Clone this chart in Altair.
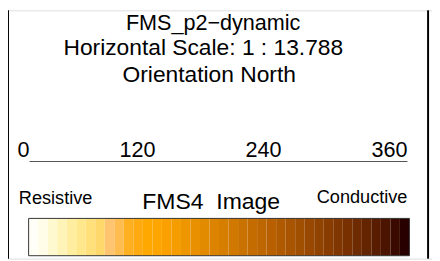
import altair as alt
import pandas as pd

# ---- data ----
title_lines = ["FMS_p2\u2212dynamic", "Horizontal Scale: 1 : 13.788", "Orientation North"]
tick_values = [0, 120, 240, 360]
tick_labels = ["0", "120", "240", "360"]
left_label = "Resistive"
center_label = "FMS4\u00a0 Image"
right_label = "Conductive"
band_colors = [
    "#FFFFF8", "#FFFDE8", "#FFF9D0", "#FFF4B8", "#FFEEA0", "#FFE88C", "#FFE07A", "#FFD86C",
    "#FFC470", "#FFBC50", "#FFB020", "#FFAA10", "#FFA800", "#FFA500", "#FAA000", "#F49C00",
    "#EE9600", "#E89000", "#E28A00", "#DC8400", "#D67E00", "#D07800", "#CA7200", "#C46C00",
    "#BE6600", "#B86000", "#B05A00", "#A85400", "#A04E00", "#984800", "#904200", "#883C00",
    "#803600", "#783000", "#6E2A00", "#642400", "#581C00", "#4A1400", "#3A0A00", "#280000",
]

FONT = "Liberation Sans"
W, H = 432, 253

one = alt.Data(values=[{"k": 1}])

def text_layer(txt, x, y, size, align="center"):
    return alt.Chart(one).mark_text(
        text=txt, font=FONT, fontSize=size, align=align, baseline="alphabetic", color="black"
    ).encode(x=alt.value(x), y=alt.value(y))

titles = [
    text_layer(title_lines[0], 209, 20, 22),
    text_layer(title_lines[1], 199, 45.5, 23.2),
    text_layer(title_lines[2], 205, 73, 23.2),
]

# axis
ticks_df = pd.DataFrame({"v": tick_values, "label": tick_labels})
xs_axis = alt.Scale(domain=[min(tick_values), max(tick_values)], range=[22, 407])
tick_text = alt.Chart(ticks_df).mark_text(
    font=FONT, fontSize=22, align="right", baseline="alphabetic", color="black"
).encode(x=alt.X("v:Q", scale=xs_axis, axis=None), y=alt.value(149), text="label:N")

line_df = pd.DataFrame({"a": [min(tick_values)], "b": [max(tick_values)]})
axis_line = alt.Chart(line_df).mark_rule(color="#555555", strokeWidth=1.2).encode(
    x=alt.X("a:Q", scale=xs_axis, axis=None), x2="b:Q", y=alt.value(154)
)

labels = [
    text_layer(left_label, 11, 197, 18.5, "left"),
    text_layer(center_label, 207, 202, 23.4),
    text_layer(right_label, 407, 196, 18.5, "right"),
]

# colour bar
n = len(band_colors)
bar_df = pd.DataFrame({"i": list(range(n)), "color": band_colors})
bar_df["i2"] = bar_df["i"] + 1
xs_bar = alt.Scale(domain=[0, n], range=[21, 409])
bar = alt.Chart(bar_df).mark_rect(stroke=None).encode(
    x=alt.X("i:Q", scale=xs_bar, axis=None), x2="i2:Q",
    y=alt.value(212), y2=alt.value(250),
    color=alt.Color("color:N", scale=None),
)
bar_outline = alt.Chart(one).mark_rect(fill=None, stroke="#333333", strokeWidth=1).encode(
    x=alt.value(21), x2=alt.value(409), y=alt.value(212), y2=alt.value(250)
)

borders = [
    alt.Chart(one).mark_rule(color="black", strokeWidth=2).encode(
        x=alt.value(0), y=alt.value(0), y2=alt.value(H)),
    alt.Chart(one).mark_rule(color="black", strokeWidth=2).encode(
        x=alt.value(428), y=alt.value(0), y2=alt.value(H)),
]

chart = alt.layer(
    *borders, *titles, axis_line, tick_text, *labels, bar, bar_outline
).resolve_scale(x="independent").properties(
    width=W, height=H, autosize=alt.AutoSizeParams(type="none"), padding=0
).configure_view(stroke=None).configure(background="white")

chart.save("out.html", embed_options={"renderer": "svg", "actions": False})
